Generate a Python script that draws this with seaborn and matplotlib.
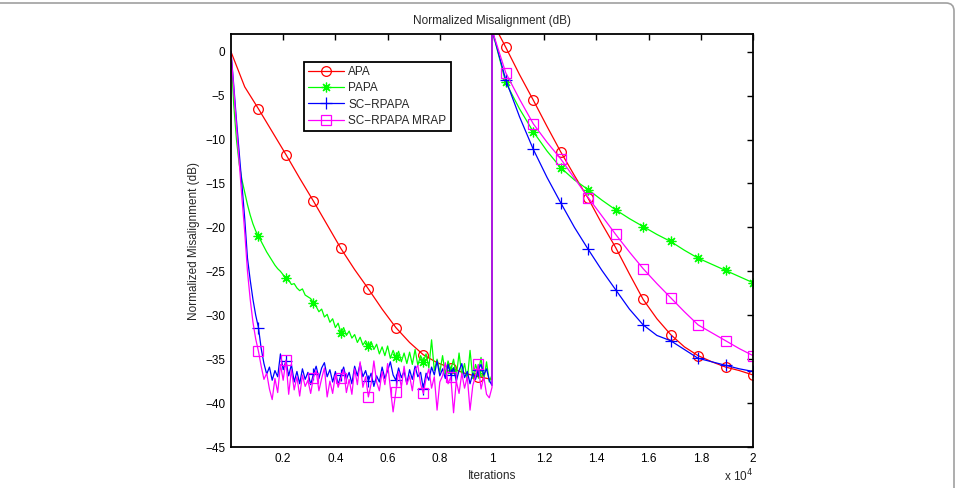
import numpy as np
import pandas as pd
import seaborn as sns
import matplotlib.pyplot as plt
from matplotlib.patches import FancyBboxPatch
from matplotlib.transforms import IdentityTransform

# iteration grids (first half dense for the noisy curves, second half coarse)
iters_dense = np.linspace(0, 10000, 96)
iters_apa1 = np.linspace(0, 10000, 20)
iters_half2 = np.linspace(10000, 20000, 20)
marker_iters = np.arange(1, 20) * 20000 / 19

apa_1 = [0, -4.0, -6.5, -9.1, -11.7, -14.4, -17.0, -19.7, -22.4, -24.8,
         -27.0, -29.3, -31.4, -33.1, -34.5, -35.4, -36.0, -36.6, -37.0, -37.3]
apa_2 = [3.5, 0.5, -2.6, -5.5, -8.5, -11.4, -14.1, -16.7, -19.6, -22.3,
         -25.3, -28.2, -30.4, -32.2, -33.6, -34.6, -35.3, -35.9, -36.3, -36.8]

papa_1 = [0, -6.0, -10.0, -12.8, -14.6, -16.0, -17.4, -18.6, -19.6, -20.4,
          -21.0, -21.6, -22.2, -22.8, -23.3, -23.8, -24.3, -24.7, -25.0, -25.4,
          -25.8, -26.0, -26.5, -26.4, -26.9, -27.2, -27.0, -27.7, -27.9, -28.1,
          -28.6, -29.0, -29.6, -29.3, -30.2, -29.9, -30.8, -30.4, -31.4, -30.9,
          -32.0, -31.4, -32.3, -31.8, -32.6, -32.2, -33.1, -32.5, -33.4, -32.9,
          -33.5, -33.0, -33.9, -33.3, -34.4, -33.6, -34.6, -33.5, -34.9, -34.0,
          -34.8, -34.1, -35.3, -34.3, -35.5, -34.2, -35.6, -33.9, -35.7, -34.6,
          -35.3, -34.4, -36.0, -32.8, -36.3, -35.0, -36.5, -34.6, -36.7, -35.2,
          -36.2, -35.0, -37.0, -34.3, -36.8, -35.5, -37.4, -34.0, -37.2, -35.6,
          -36.6, -34.8, -37.4, -35.3, -37.6, -36.8]
papa_2 = [2.5, -3.5, -6.5, -9.1, -11.3, -13.2, -14.6, -15.7, -16.9, -18.0,
          -19.0, -19.9, -20.8, -21.6, -22.6, -23.5, -24.2, -24.9, -25.6, -26.3]

scr_1 = [0, -3.8, -7.8, -11.5, -15.2, -19.0, -23.5, -26.0, -28.2, -30.0,
         -31.4, -33.8, -35.5, -36.7, -35.9, -37.4, -36.3, -37.0, -34.4, -36.2,
         -35.2, -36.9, -35.6, -37.6, -36.4, -37.8, -36.1, -37.3, -36.5, -37.9,
         -36.7, -35.8, -37.2, -36.0, -35.4, -37.0, -36.2, -37.6, -36.4, -37.9,
         -36.8, -35.9, -37.3, -36.5, -37.8, -35.8, -36.9, -35.5, -37.0, -36.3,
         -37.5, -36.6, -38.1, -36.9, -37.6, -35.9, -37.2, -36.3, -35.3, -36.8,
         -37.4, -36.0, -37.1, -36.4, -37.8, -36.2, -37.3, -35.8, -37.0, -36.5,
         -38.4, -36.6, -37.4, -35.9, -36.8, -35.2, -36.9, -36.1, -37.2, -35.6,
         -36.8, -36.0, -37.5, -36.3, -35.5, -37.1, -36.4, -37.8, -36.6, -37.3,
         -36.2, -35.6, -36.8, -36.1, -37.4, -38.0]
scr_2 = [2.5, -3.2, -7.4, -11.1, -14.3, -17.2, -20.0, -22.5, -24.9, -27.1,
         -29.3, -31.1, -32.3, -32.9, -33.9, -34.9, -35.3, -35.7, -36.1, -36.4]

mrap_1 = [0, -4.2, -8.5, -12.6, -16.7, -20.5, -25.0, -28.2, -30.8, -32.7,
          -34.1, -35.8, -37.3, -36.6, -38.4, -39.6, -37.2, -38.8, -35.6, -37.4,
          -35.1, -39.0, -36.2, -38.5, -37.0, -39.2, -36.8, -38.1, -37.4, -38.9,
          -37.1, -36.3, -38.6, -37.2, -36.0, -39.3, -37.5, -38.9, -36.8, -38.2,
          -37.2, -36.2, -38.8, -37.3, -39.0, -36.1, -37.9, -35.3, -38.2, -37.0,
          -39.3, -37.8, -35.2, -37.6, -38.6, -36.4, -37.9, -35.5, -38.3, -41.0,
          -38.7, -36.4, -38.2, -35.8, -37.9, -36.9, -38.6, -36.2, -35.7, -37.8,
          -38.9, -37.2, -36.1, -38.3, -37.0, -40.8, -37.6, -36.9, -35.4, -37.8,
          -37.0, -41.1, -37.5, -38.9, -36.6, -38.3, -37.0, -40.8, -38.0, -36.9,
          -35.6, -38.4, -37.0, -39.0, -39.4, -38.2]
mrap_2 = [2.5, -2.4, -5.4, -8.2, -10.3, -12.2, -14.4, -16.6, -18.7, -20.8,
          -22.8, -24.7, -26.4, -28.0, -29.6, -31.1, -32.0, -32.9, -33.8, -34.6]

series = [
    ("APA", iters_apa1, apa_1, apa_2, "#ff0000", "o", 7),
    ("PAPA", iters_dense, papa_1, papa_2, "#00ff00", (8, 2, 0), 7),
    ("SC\u2212RPAPA", iters_dense, scr_1, scr_2, "#0000ff", "+", 8),
    ("SC\u2212RPAPA MRAP", iters_dense, mrap_1, mrap_2, "#ff00ff", "s", 6.5),
]

sns.set_theme(style="white")
plt.rcParams['font.family'] = ['Liberation Sans', 'DejaVu Sans']

fig = plt.figure(figsize=(9.58, 4.88), dpi=100)
ax = fig.add_axes([0.2411, 0.084, 0.545, 0.846])

for name, x1, y1, y2, color, mk, ms in series:
    df = pd.DataFrame({"it": np.concatenate([x1, iters_half2]),
                       "nm": np.concatenate([y1, y2])})
    idx = np.where(np.isclose(df["it"].values[:, None], marker_iters[None, :],
                              atol=1).any(axis=1))[0]
    sns.lineplot(data=df, x="it", y="nm", ax=ax, sort=False, estimator=None,
                 color=color, lw=0.9, marker=mk, markevery=list(idx),
                 markersize=ms, mfc="none", mec=color, mew=0.9, label=name)

ax.set_xlim(0, 20000)
ax.set_ylim(-45, 2)
ax.set_xticks(np.arange(2000, 20001, 2000))
ax.set_xticklabels(["0.2", "0.4", "0.6", "0.8", "1", "1.2", "1.4", "1.6", "1.8", "2"])
ax.set_yticks(np.arange(-45, 1, 5))
ax.tick_params(direction="in", length=4, width=1, top=True, right=True,
               labelsize=8.5, colors="black", pad=4)
for s in ax.spines.values():
    s.set_color("black")
    s.set_linewidth(1.3)

ax.set_xlabel("Iterations", fontsize=8.5, labelpad=4)
ax.set_ylabel("Normalized Misalignment (dB)", fontsize=8.5, labelpad=4)
ax.set_title("Normalized Misalignment (dB)", fontsize=8.5, pad=7)
ax.text(1.0, -0.082, r"x 10$^4$", transform=ax.transAxes, ha="right",
        va="baseline", fontsize=8.5)

leg = ax.legend(loc="upper left", bbox_to_anchor=(0.14, 0.932),
                borderaxespad=0, fancybox=False, framealpha=1,
                edgecolor="black", fontsize=8.5, handlelength=3.0,
                handletextpad=0.4, labelspacing=0.35, borderpad=0.35)
leg.get_frame().set_linewidth(1.3)

# rounded grey frame at the top/right of the image
frame = FancyBboxPatch((-20, -20), 974, 505,
                       boxstyle="round,pad=0,rounding_size=8",
                       transform=IdentityTransform(), fill=False,
                       edgecolor="#a0a0a0", lw=1.2)
fig.add_artist(frame)

fig.savefig("out.png", dpi=100)
